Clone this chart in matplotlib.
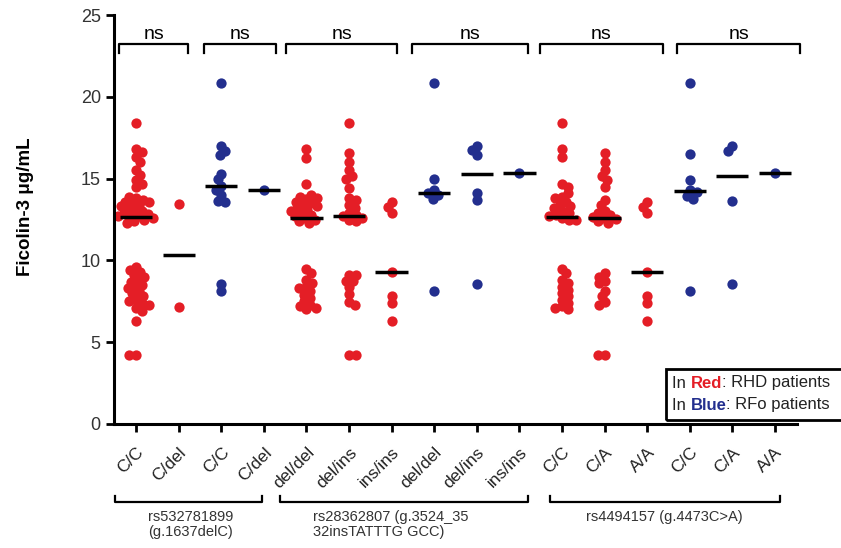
import numpy as np
import matplotlib
matplotlib.use("Agg")
import matplotlib.pyplot as plt
from matplotlib.transforms import blended_transform_factory, ScaledTranslation
from matplotlib.patches import Rectangle

plt.rcParams['font.family'] = ['Liberation Sans', 'DejaVu Sans']

RED = '#e41e26'
BLUE = '#232f8e'

labels = ["C/C", "C/del", "C/C", "C/del",
          "del/del", "del/ins", "ins/ins", "del/del", "del/ins", "ins/ins",
          "C/C", "C/A", "A/A", "C/C", "C/A", "A/A"]
colors = [RED, RED, BLUE, BLUE,
          RED, RED, RED, BLUE, BLUE, BLUE,
          RED, RED, RED, BLUE, BLUE, BLUE]

# rs532781899
rhd_cc_1 = [18.4, 16.8, 16.6, 16.3, 16.0, 15.5, 15.2, 14.9, 14.7, 14.5, 13.8,
            13.9, 13.7, 13.6, 13.55, 13.5, 13.4, 13.3, 13.2, 13.1, 13.0, 12.9,
            12.85, 12.8, 12.7, 12.7, 12.6, 12.5, 12.4, 12.3,
            9.6, 9.4, 9.3, 9.1, 9.0, 8.8, 8.7, 8.5, 8.4, 8.3, 8.1, 8.0, 7.8,
            7.6, 7.5, 7.4, 7.3, 7.1, 6.9, 6.3, 4.2, 4.2]
rhd_cdel_1 = [13.45, 7.15]
rfo_cc_1 = [20.85, 17.0, 16.7, 16.45, 15.3, 14.95, 14.55, 14.3, 14.0, 13.65,
            13.6, 8.55, 8.15]
rfo_cdel_1 = [14.3]

# rs28362807
rhd_deldel_2 = [16.8, 16.25, 14.7, 13.75,
                14.0, 13.9, 13.8, 13.6, 13.5, 13.4, 13.3, 13.2, 13.1, 13.0,
                12.9, 12.8, 12.7, 12.6, 12.5, 12.4, 12.3,
                9.5, 9.25, 8.8, 8.6, 8.4, 8.3, 8.1, 7.9, 7.7, 7.5, 7.3, 7.2,
                7.1, 7.0]
rhd_delins_2 = [18.4, 16.55, 16.0, 15.5, 15.15, 14.95, 14.45, 13.8, 13.7,
                13.4, 13.2, 12.9, 12.8, 12.7, 12.6, 12.5, 12.4,
                9.1, 9.1, 8.75, 8.75, 8.35, 7.95, 7.45, 7.3, 4.2, 4.2]
rhd_insins_2 = [13.55, 13.25, 12.9, 9.3, 7.8, 7.4, 6.3]
rfo_deldel_2 = [20.85, 14.95, 14.3, 14.1, 14.0, 13.75, 8.15]
rfo_delins_2 = [17.0, 16.75, 16.45, 14.1, 13.7, 8.55]
rfo_insins_2 = [15.35]

# rs4494157
rhd_cc_3 = [18.4, 16.8, 16.3, 14.7, 14.5, 13.9,
            14.1, 13.8, 13.6, 13.4, 13.3, 13.2, 13.0, 12.9, 12.8, 12.7, 12.6,
            12.5, 12.45,
            9.5, 9.2, 8.8, 8.6, 8.4, 8.2, 8.0, 7.8, 7.6, 7.4, 7.2, 7.1, 7.0]
rhd_ca_3 = [16.55, 16.0, 15.5, 15.15, 14.9, 14.5, 13.7, 13.4, 13.0, 12.9,
            12.75, 12.65, 12.6, 12.55, 12.4, 12.3,
            9.2, 9.0, 8.75, 8.6, 8.15, 7.8, 7.45, 7.3, 4.2, 4.2]
rhd_aa_3 = [13.55, 13.25, 12.9, 9.3, 7.8, 7.4, 6.3]
rfo_cc_3 = [20.85, 16.5, 14.9, 14.3, 14.2, 13.95, 13.75, 8.15]
rfo_ca_3 = [17.0, 16.7, 13.65, 8.55]
rfo_aa_3 = [15.35]

columns = [rhd_cc_1, rhd_cdel_1, rfo_cc_1, rfo_cdel_1,
           rhd_deldel_2, rhd_delins_2, rhd_insins_2,
           rfo_deldel_2, rfo_delins_2, rfo_insins_2,
           rhd_cc_3, rhd_ca_3, rhd_aa_3, rfo_cc_3, rfo_ca_3, rfo_aa_3]

# significance brackets (x start, x end in category units)
top_start = [-0.4, 1.6, 3.52, 6.48, 9.48, 12.7]
top_end = [1.22, 3.28, 6.13, 9.2, 12.37, 15.6]
top_text = ["ns"] * 6

# SNP brackets under the tick labels
snp_start = [-0.49, 3.38, 9.72]
snp_end = [2.96, 9.2, 15.12]
snp_names = ["rs532781899\n(g.1637delC)",
             "rs28362807 (g.3524_35\n32insTATTTG GCC)",
             "rs4494157 (g.4473C>A)"]

W, H = 841, 548
fig = plt.figure(figsize=(W / 100, H / 100), dpi=100)
ax = fig.add_axes([114 / W, 1 - 424 / H, (797 - 114) / W, (424 - 15) / H])
ax.set_xlim(-0.52, 15.52)
ax.set_ylim(0, 25)

px_y = 409 / 25.0
px_x = 683 / 16.04


def swarm(vals, dmin=6.3):
    # simple beeswarm in pixel space, points may overlap a little
    ys = np.asarray(vals, dtype=float) * px_y
    xs = np.zeros(len(ys))
    placed = []
    for i in range(len(ys)):
        for k in range(0, 60):
            cands = [0.0] if k == 0 else [k * 1.0, -k * 1.0]
            if i % 2:
                cands = cands[::-1]
            found = None
            for c in cands:
                if all((c - px) ** 2 + (ys[i] - py) ** 2 >= dmin ** 2 for px, py in placed):
                    found = c
                    break
            if found is not None:
                xs[i] = found
                placed.append((found, ys[i]))
                break
    return xs / px_x


for i, vals in enumerate(columns):
    offs = swarm(vals)
    ax.plot(i + offs, vals, 'o', color=colors[i], markersize=7.4,
            markeredgewidth=0, zorder=2)
    med = np.median(vals)
    ax.plot([i - 0.38, i + 0.38], [med, med], color='black', lw=2.5,
            solid_capstyle='butt', zorder=3)

ax.set_xticks(range(len(labels)))
ax.set_xticklabels(labels, rotation=45, ha='right', rotation_mode='anchor',
                   fontsize=12.5, color='#222222')
shift = ScaledTranslation(-4 / 100, 0, fig.dpi_scale_trans)
for lab in ax.get_xticklabels():
    lab.set_transform(lab.get_transform() + shift)
ax.set_yticks([0, 5, 10, 15, 20, 25])
ax.tick_params(axis='y', labelsize=13, labelcolor='#333333', width=2, length=6)
ax.tick_params(axis='x', width=2, length=6, pad=9)
for s in ['top', 'right']:
    ax.spines[s].set_visible(False)
for s in ['left', 'bottom']:
    ax.spines[s].set_linewidth(2.2)

fig.text(25 / W, 1 - 207 / H, 'Ficolin-3 \u03bcg/mL', rotation=90,
         ha='center', va='center', fontsize=13.5, fontweight='bold')

for x0, x1, t in zip(top_start, top_end, top_text):
    ax.plot([x0, x0, x1, x1], [22.7, 23.2, 23.2, 22.7], color='black',
            lw=1.6, clip_on=False)
    ax.text((x0 + x1) / 2, 23.3, t, ha='center', va='bottom', fontsize=14)

tr = blended_transform_factory(ax.transData, fig.transFigure)
yb = 1 - 502 / H
for x0, x1 in zip(snp_start, snp_end):
    ax.plot([x0, x0, x1, x1], [yb + 6 / H, yb, yb, yb + 6 / H], color='black',
            lw=1.6, transform=tr, clip_on=False)
ax.text(1.27, 1 - 510 / H, snp_names[0], transform=tr, ha='center', va='top',
        fontsize=10.5, color='#333333', linespacing=1.1)
ax.text(4.15, 1 - 510 / H, snp_names[1], transform=tr, ha='left', va='top',
        fontsize=10.5, color='#333333', linespacing=1.1)
ax.text(12.4, 1 - 510 / H, snp_names[2], transform=tr, ha='center', va='top',
        fontsize=10.5, color='#333333')

# legend box
fig.patches.append(Rectangle((666 / W, 1 - 420 / H), 190 / W, 51 / H,
                             transform=fig.transFigure, fill=False,
                             edgecolor='black', lw=2))
fig.canvas.draw()
rend = fig.canvas.get_renderer()


def colored_line(y, parts):
    x = 672 / W
    for txt, col, wt in parts:
        t = fig.text(x, y, txt, color=col, fontweight=wt, fontsize=12,
                     ha='left', va='center')
        bb = t.get_window_extent(renderer=rend)
        x += bb.width / W


colored_line(1 - 383 / H, [("In ", '#222222', 'normal'), ("Red", RED, 'bold'),
                           (": RHD patients", '#222222', 'normal')])
colored_line(1 - 405 / H, [("In ", '#222222', 'normal'), ("Blue", BLUE, 'bold'),
                           (": RFo patients", '#222222', 'normal')])

fig.savefig('out.png', dpi=100)
